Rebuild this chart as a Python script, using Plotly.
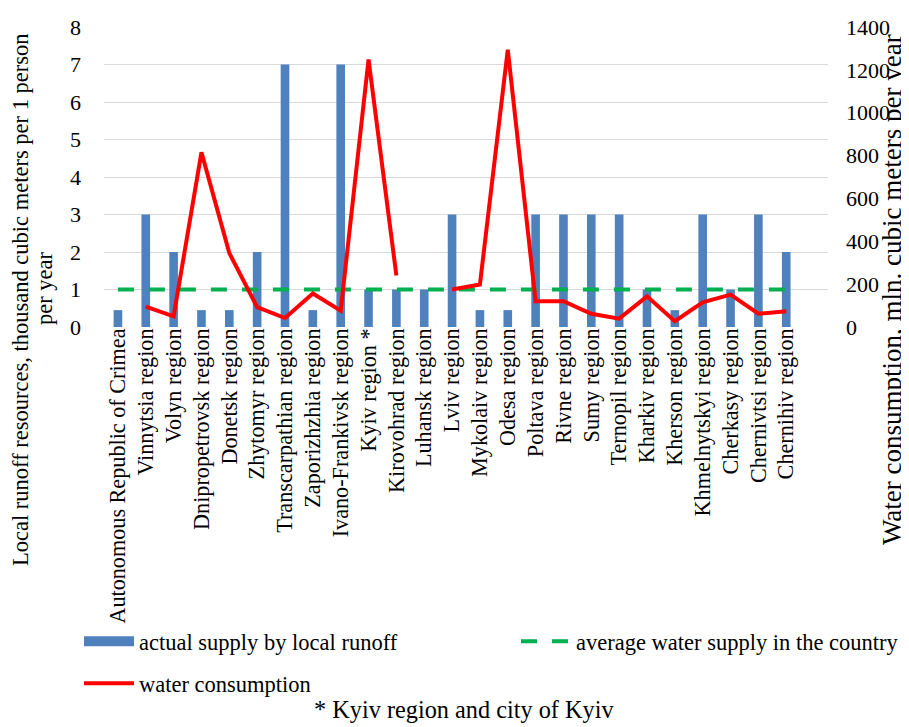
import plotly.graph_objects as go

regions = [
    "Autonomous Republic of Crimea", "Vinnytsia region", "Volyn region",
    "Dnipropetrovsk region", "Donetsk region", "Zhytomyr region",
    "Transcarpathian region", "Zaporizhzhia region", "Ivano-Frankivsk region",
    "Kyiv region *", "Kirovohrad region", "Luhansk region", "Lviv region",
    "Mykolaiv region", "Odesa region", "Poltava region", "Rivne region",
    "Sumy region", "Ternopil region", "Kharkiv region", "Kherson region",
    "Khmelnytskyi region", "Cherkasy region", "Chernivtsi region",
    "Chernihiv region",
]
local_runoff = [0.45, 3, 2, 0.45, 0.45, 2, 7, 0.45, 7, 1, 1, 1, 3,
                0.45, 0.45, 3, 3, 3, 3, 1, 0.45, 3, 1, 3, 2]
average_supply = [1] * 25
water_consumption = [None, 95, 50, 815, 345, 93, 42, 156, 76, 1248, 240,
                     None, 175, 198, 1294, 120, 120, 62, 39, 143, 27, 115,
                     151, 62, 73]

FONT = "Liberation Serif"
BLUE = "#4F81BD"

# plot-area pixel geometry helpers (for annotation placement)
PX_L, PX_R, PX_T, PX_B = 96, 820, 19, 319
def px_x(px):
    return (px - PX_L) / (PX_R - PX_L)
def px_y(py):
    return (PX_B - py) / (PX_B - PX_T)

W, H = 909, 727

fig = go.Figure()
fig.add_trace(go.Bar(x=regions, y=local_runoff, name="actual supply by local runoff",
                     marker=dict(color=BLUE, line=dict(width=0)),
                     showlegend=False))
# legend-only entry giving the wide rectangular swatch of the bar series
fig.add_trace(go.Scatter(x=[None], y=[None], mode="lines",
                         name="actual supply by local runoff",
                         line=dict(color=BLUE, width=14),
                         legend="legend", hoverinfo="skip"))
fig.add_trace(go.Scatter(x=regions, y=average_supply, mode="lines",
                         name="average water supply in the country",
                         line=dict(color="#00B050", width=4, dash="16px,15px"),
                         legend="legend2"))
fig.add_trace(go.Scatter(x=regions, y=water_consumption, mode="lines",
                         name="water consumption", yaxis="y2", connectgaps=False,
                         line=dict(color="#FF0000", width=4),
                         legend="legend3"))

legend_common = dict(xref="container", yref="container", xanchor="left",
                     yanchor="top", font=dict(size=22.5, family=FONT),
                     itemwidth=50, bgcolor="rgba(0,0,0,0)")

ann_font = dict(size=22.5, family=FONT, color="black")

fig.update_layout(
    width=W, height=H,
    margin=dict(l=96, r=89, t=19, b=408, autoexpand=False),
    paper_bgcolor="white", plot_bgcolor="white",
    font=dict(family=FONT, size=22, color="black"),
    bargap=0.69,
    showlegend=True,
    legend=dict(x=71 / W, y=1 - 612 / H, **legend_common),
    legend2=dict(x=508 / W, y=1 - 612 / H, **legend_common),
    legend3=dict(x=71 / W, y=1 - 654 / H, **legend_common),
    xaxis=dict(range=[-0.5, 25.5], tickangle=-90, showgrid=False,
               tickmode="linear", tick0=0, dtick=1,
               ticks="", showline=False, automargin=False,
               ticklabelstandoff=-4,
               tickfont=dict(size=22.2, family=FONT)),
    yaxis=dict(range=[0, 8], dtick=1, showgrid=True, gridcolor="#D9D9D9",
               gridwidth=1, zeroline=False, showline=False,
               ticklabelstandoff=22, automargin=False,
               tickfont=dict(size=22, family=FONT)),
    yaxis2=dict(range=[0, 1400], dtick=200, overlaying="y", side="right",
                showgrid=False, zeroline=False, showline=False,
                ticklabelstandoff=17, automargin=False,
                tickfont=dict(size=22, family=FONT)),
    annotations=[
        dict(text="Local runoff resources, thousand cubic meters per 1 person",
             xref="paper", yref="paper", x=px_x(12), y=px_y(292),
             xanchor="center", yanchor="middle", textangle=-90, showarrow=False,
             font=ann_font),
        dict(text="per year",
             xref="paper", yref="paper", x=px_x(36), y=px_y(280),
             xanchor="center", yanchor="middle", textangle=-90, showarrow=False,
             font=ann_font),
        dict(text="Water consumption, mln. cubic meters per year",
             xref="paper", yref="paper", x=px_x(884), y=px_y(282),
             xanchor="center", yanchor="middle", textangle=-90, showarrow=False,
             font=dict(size=27, family=FONT, color="black")),
        dict(text="* Kyiv region and city of Kyiv",
             xref="paper", yref="paper", x=px_x(456), y=px_y(701),
             xanchor="center", yanchor="middle", showarrow=False,
             font=dict(size=24.3, family=FONT)),
    ],
)

fig.write_html("out.html")
